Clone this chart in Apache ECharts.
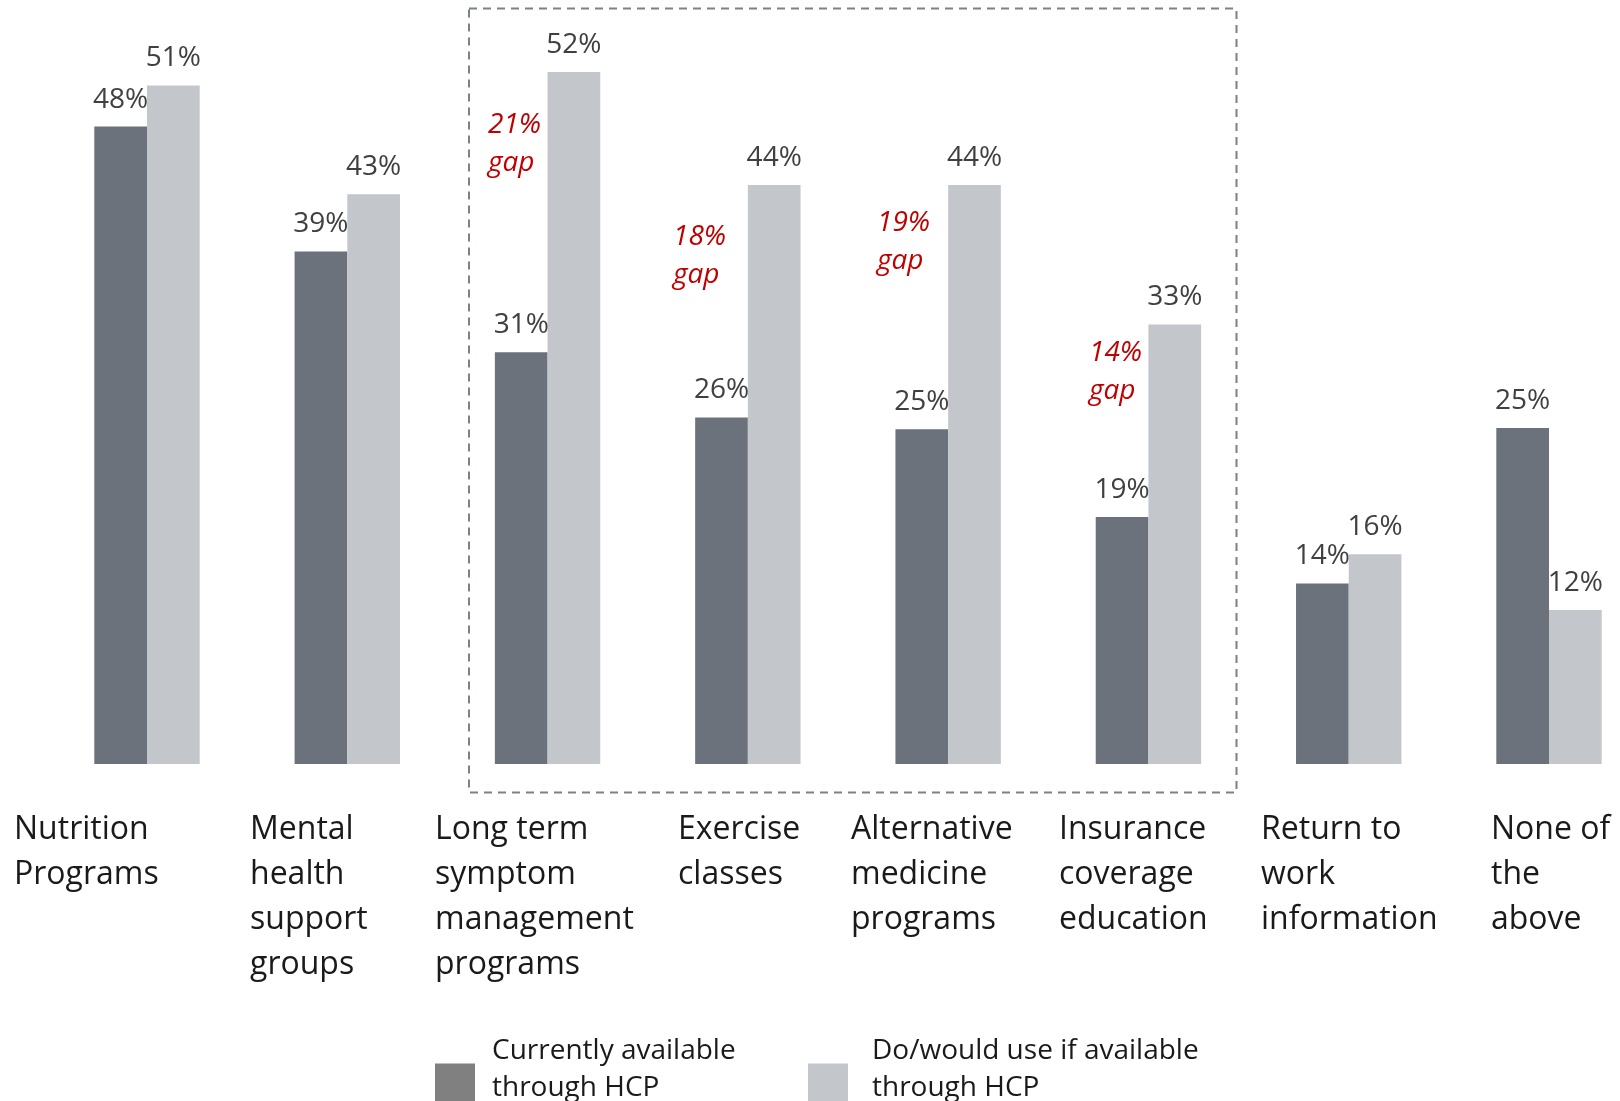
<!DOCTYPE html>
<html>
<head>
<meta charset="utf-8">
<script src="https://cdn.jsdelivr.net/npm/echarts@6/dist/echarts.min.js"></script>
<style>
  html, body { margin: 0; padding: 0; background: #fff; }
  #chart { width: 1620px; height: 1101px; }
</style>
</head>
<body>
<div id="chart"></div>
<script>
// data (bar heights; labels show rounded values)
var categories = [
  'Nutrition\nPrograms',
  'Mental\nhealth\nsupport\ngroups',
  'Long term\nsymptom\nmanagement\nprograms',
  'Exercise\nclasses',
  'Alternative\nmedicine\nprograms',
  'Insurance\ncoverage\neducation',
  'Return to\nwork\ninformation',
  'None of\nthe\nabove'
];
var seriesNames = ['Currently available\nthrough HCP', 'Do/would use if available\nthrough HCP'];
var available = [48.0, 38.6, 31.0, 26.1, 25.2, 18.6, 13.6, 25.3];
var wouldUse = [51.1, 42.9, 52.1, 43.6, 43.6, 33.1, 15.8, 11.6];
var gapCategories = [2, 3, 4, 5];

// layout bits (pixels)
var labelLeft = [14, 250, 435, 678, 851, 1059, 1261, 1491];
var gapPos = [[488, 124], [673, 236], [877, 222], [1089, 352]];

var font = '"Open Sans", "Noto Sans", sans-serif';
var chart = echarts.init(document.getElementById('chart'));

var graphics = [];
categories.forEach(function (c, i) {
  graphics.push({
    type: 'text',
    left: labelLeft[i],
    top: 807,
    style: {
      text: c,
      font: '32px ' + font,
      lineHeight: 45,
      fill: '#1a1a1a'
    }
  });
});
gapCategories.forEach(function (idx, k) {
  var gap = Math.round(wouldUse[idx]) - Math.round(available[idx]);
  graphics.push({
    type: 'text',
    left: gapPos[k][0],
    top: gapPos[k][1] - 18,
    style: {
      text: gap + '%\ngap',
      font: 'italic 28px ' + font,
      lineHeight: 38,
      fill: '#c00000'
    }
  });
});
graphics.push({
  type: 'rect',
  shape: { x: 469, y: 8.5, width: 767.5, height: 784 },
  style: { fill: 'none', stroke: '#7a8189', lineWidth: 2, lineDash: [8, 6] }
});

var valueLabel = {
  show: true,
  position: 'top',
  distance: 13,
  formatter: function (p) { return Math.round(p.value) + '%'; },
  color: '#404040',
  fontFamily: font,
  fontSize: 28,
  lineHeight: 28
};

function legendText(name) {
  return name.split('\n').map(function (l) { return '{a|' + l + '}'; }).join('\n') + '\n{b| }';
}
var legendRich = {
  a: { fontFamily: font, fontSize: 28, lineHeight: 37, color: '#1a1a1a' },
  b: { fontSize: 10, lineHeight: 28 }
};

var option = {
  animation: false,
  grid: { left: 46.85, width: 1602.3, top: 33.6, height: 730.4, outerBoundsMode: 'none', containLabel: false },
  legend: [
    {
      left: 435, top: 1037, padding: 0,
      itemWidth: 40, itemHeight: 40,
      icon: 'rect',
      data: [{ name: seriesNames[0], itemStyle: { color: '#808080' } }],
      formatter: legendText,
      textStyle: { padding: [0, 0, 0, 12], rich: legendRich }
    },
    {
      left: 808, top: 1037, padding: 0,
      itemWidth: 40, itemHeight: 40,
      icon: 'rect',
      data: [{ name: seriesNames[1], itemStyle: { color: '#c3c6cb' } }],
      formatter: legendText,
      textStyle: { padding: [0, 0, 0, 19], rich: legendRich }
    }
  ],
  xAxis: {
    type: 'category',
    data: categories,
    axisLine: { show: false },
    axisTick: { show: false },
    axisLabel: { show: false }
  },
  yAxis: {
    type: 'value',
    min: 0,
    max: 55,
    show: false,
    splitLine: { show: false }
  },
  series: [
    {
      name: seriesNames[0],
      type: 'bar',
      data: available,
      barWidth: 52.7,
      barGap: '0%',
      itemStyle: { color: '#6b727b' },
      label: valueLabel
    },
    {
      name: seriesNames[1],
      type: 'bar',
      data: wouldUse,
      barWidth: 52.7,
      itemStyle: { color: '#c3c6cb' },
      label: valueLabel
    }
  ],
  graphic: graphics
};
chart.setOption(option);
</script>
</body>
</html>
